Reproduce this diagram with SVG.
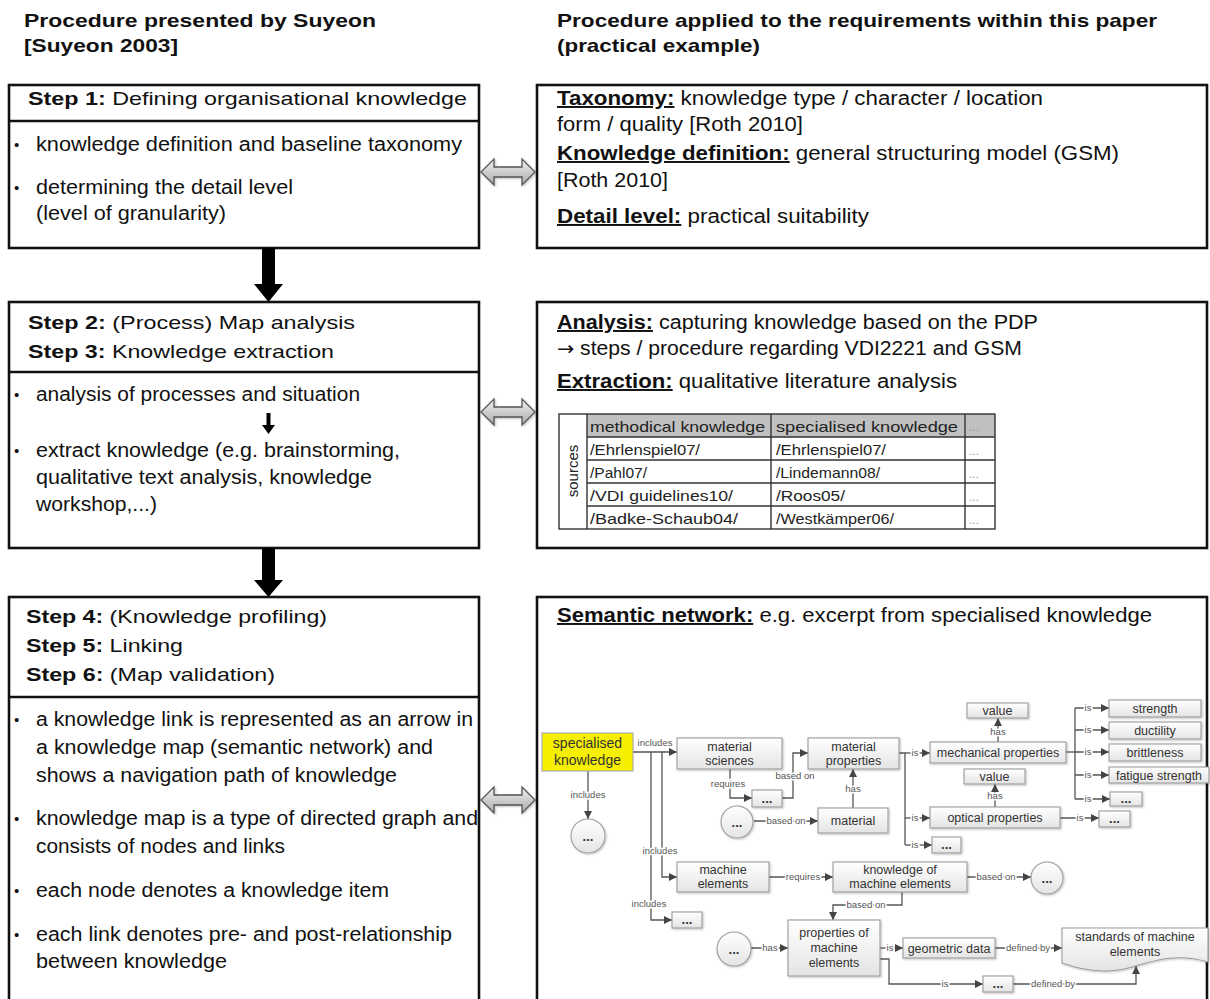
<svg xmlns="http://www.w3.org/2000/svg" width="1210" height="999" viewBox="0 0 1210 999">
  <defs>
    <style>
      .ttl { font-family: "Liberation Sans", Arial, sans-serif; font-weight: bold; font-size: 19px; fill: #111; }
      .hd { font-family: "Liberation Sans", Arial, sans-serif; font-size: 19px; fill: #111; }
      .b { font-weight: bold; }
      .bt { font-family: "Liberation Sans", Arial, sans-serif; font-size: 19.5px; fill: #111; }
      .bul { font-family: "Liberation Sans", Arial, sans-serif; font-size: 15px; fill: #111; }
      .bu { font-weight: bold; text-decoration: underline; }
      .arr { font-family: "DejaVu Sans", sans-serif; font-size: 19px; }
      .frame { fill: #fff; stroke: #111; stroke-width: 2.6; }
      .sep { stroke: #111; stroke-width: 2.4; }
      .tb { font-family: "Liberation Sans", Arial, sans-serif; font-size: 15px; fill: #222; }
      .tdots { font-family: "Liberation Sans", Arial, sans-serif; font-size: 12px; fill: #999; }
      .tl { stroke: #333; stroke-width: 1.4; fill: none; }
      .nb { fill: url(#ng); stroke: #9c9c9c; stroke-width: 1.1; filter: url(#sh); }
      .nt { font-family: "Liberation Sans", Arial, sans-serif; font-size: 12.5px; fill: #333; text-anchor: middle; }
      .dots { font-family: "Liberation Sans", Arial, sans-serif; font-size: 13px; font-weight: bold; fill: #333; text-anchor: middle; }
      .ln { stroke: #555; stroke-width: 1.3; fill: none; }
      .el { font-family: "Liberation Sans", Arial, sans-serif; font-size: 9.5px; fill: #555; text-anchor: middle; paint-order: stroke; stroke: #fff; stroke-width: 3px; stroke-linejoin: round; }
      .dbl { fill: url(#dg); stroke: #555; stroke-width: 1.3; filter: url(#sh); }
      .big { fill: #000; }
    </style>
    <linearGradient id="ng" x1="0" y1="0" x2="0" y2="1">
      <stop offset="0" stop-color="#ffffff"/>
      <stop offset="1" stop-color="#e4e4e4"/>
    </linearGradient>
    <linearGradient id="dg" x1="0" y1="0" x2="0" y2="1">
      <stop offset="0" stop-color="#f2f2f2"/>
      <stop offset="1" stop-color="#a9a9a9"/>
    </linearGradient>
    <filter id="sh" x="-20%" y="-20%" width="140%" height="140%">
      <feDropShadow dx="1" dy="1" stdDeviation="0.8" flood-color="#000" flood-opacity="0.25"/>
    </filter>
    <marker id="ah" viewBox="0 0 10 10" refX="10" refY="5" markerWidth="8" markerHeight="8" markerUnits="userSpaceOnUse" orient="auto">
      <path d="M0,0 L10,5 L0,10 z" fill="#444"/>
    </marker>
  </defs>

  <rect width="1210" height="999" fill="#fff"/>

  <!-- column titles -->
  <g id="titles">
    <text class="ttl" x="24" y="27" textLength="352" lengthAdjust="spacingAndGlyphs">Procedure presented by Suyeon</text>
    <text class="ttl" x="24" y="52" textLength="154" lengthAdjust="spacingAndGlyphs">[Suyeon 2003]</text>
    <text class="ttl" x="557" y="27" textLength="600" lengthAdjust="spacingAndGlyphs">Procedure applied to the requirements within this paper</text>
    <text class="ttl" x="557" y="52" textLength="203" lengthAdjust="spacingAndGlyphs">(practical example)</text>
  </g>

  <!-- left column: Suyeon procedure -->
  <g id="step1">
    <rect class="frame" x="9" y="85" width="470" height="163"/>
    <line class="sep" x1="9" y1="121" x2="479" y2="121"/>
    <text class="hd" x="28" y="105" textLength="439" lengthAdjust="spacingAndGlyphs"><tspan class="b">Step 1:</tspan> Defining organisational knowledge</text>
    <text class="bul" x="14" y="150">•</text>
    <text class="bt" x="36" y="151" textLength="426" lengthAdjust="spacingAndGlyphs">knowledge definition and baseline taxonomy</text>
    <text class="bul" x="14" y="193">•</text>
    <text class="bt" x="36" y="194" textLength="257" lengthAdjust="spacingAndGlyphs">determining the detail level</text>
    <text class="bt" x="36" y="220" textLength="190" lengthAdjust="spacingAndGlyphs">(level of granularity)</text>
  </g>

  <g id="step23">
    <rect class="frame" x="9" y="302" width="470" height="246"/>
    <line class="sep" x1="9" y1="372" x2="479" y2="372"/>
    <text class="hd" x="28" y="329" textLength="327" lengthAdjust="spacingAndGlyphs"><tspan class="b">Step 2:</tspan> (Process) Map analysis</text>
    <text class="hd" x="28" y="358" textLength="306" lengthAdjust="spacingAndGlyphs"><tspan class="b">Step 3:</tspan> Knowledge extraction</text>
    <text class="bul" x="14" y="400">•</text>
    <text class="bt" x="36" y="401" textLength="324" lengthAdjust="spacingAndGlyphs">analysis of processes and situation</text>
    <polygon class="big" points="266.5,413 270.5,413 270.5,425 275,425 268.5,434 262,425 266.5,425"/>
    <text class="bul" x="14" y="456">•</text>
    <text class="bt" x="36" y="457" textLength="364" lengthAdjust="spacingAndGlyphs">extract knowledge (e.g. brainstorming,</text>
    <text class="bt" x="36" y="484" textLength="336" lengthAdjust="spacingAndGlyphs">qualitative text analysis, knowledge</text>
    <text class="bt" x="36" y="511" textLength="121" lengthAdjust="spacingAndGlyphs">workshop,...)</text>
  </g>

  <g id="step456">
    <rect class="frame" x="9" y="597" width="470" height="420"/>
    <line class="sep" x1="9" y1="697" x2="479" y2="697"/>
    <text class="hd" x="26" y="623" textLength="301" lengthAdjust="spacingAndGlyphs"><tspan class="b">Step 4:</tspan> (Knowledge profiling)</text>
    <text class="hd" x="26" y="652" textLength="157" lengthAdjust="spacingAndGlyphs"><tspan class="b">Step 5:</tspan> Linking</text>
    <text class="hd" x="26" y="681" textLength="249" lengthAdjust="spacingAndGlyphs"><tspan class="b">Step 6:</tspan> (Map validation)</text>
    <text class="bul" x="14" y="725">•</text>
    <text class="bt" x="36" y="726" textLength="437" lengthAdjust="spacingAndGlyphs">a knowledge link is represented as an arrow in</text>
    <text class="bt" x="36" y="754" textLength="397" lengthAdjust="spacingAndGlyphs">a knowledge map (semantic network) and</text>
    <text class="bt" x="36" y="782" textLength="361" lengthAdjust="spacingAndGlyphs">shows a navigation path of knowledge</text>
    <text class="bul" x="14" y="824">•</text>
    <text class="bt" x="36" y="825" textLength="442" lengthAdjust="spacingAndGlyphs">knowledge map is a type of directed graph and</text>
    <text class="bt" x="36" y="853" textLength="249" lengthAdjust="spacingAndGlyphs">consists of nodes and links</text>
    <text class="bul" x="14" y="896">•</text>
    <text class="bt" x="36" y="897" textLength="353" lengthAdjust="spacingAndGlyphs">each node denotes a knowledge item</text>
    <text class="bul" x="14" y="940">•</text>
    <text class="bt" x="36" y="941" textLength="416" lengthAdjust="spacingAndGlyphs">each link denotes pre- and post-relationship</text>
    <text class="bt" x="36" y="968" textLength="191" lengthAdjust="spacingAndGlyphs">between knowledge</text>
  </g>

  <!-- right column: applied procedure -->
  <g id="applied1">
    <rect class="frame" x="537" y="85" width="670" height="163"/>
    <text class="bt" x="557" y="105" textLength="486" lengthAdjust="spacingAndGlyphs"><tspan class="bu">Taxonomy:</tspan> knowledge type / character / location</text>
    <text class="bt" x="557" y="131" textLength="246" lengthAdjust="spacingAndGlyphs">form / quality [Roth 2010]</text>
    <text class="bt" x="557" y="160" textLength="562" lengthAdjust="spacingAndGlyphs"><tspan class="bu">Knowledge definition:</tspan> general structuring model (GSM)</text>
    <text class="bt" x="557" y="187" textLength="111" lengthAdjust="spacingAndGlyphs">[Roth 2010]</text>
    <text class="bt" x="557" y="223" textLength="312" lengthAdjust="spacingAndGlyphs"><tspan class="bu">Detail level:</tspan> practical suitability</text>
  </g>

  <g id="applied2">
    <rect class="frame" x="537" y="302" width="670" height="246"/>
    <text class="bt" x="557" y="329" textLength="481" lengthAdjust="spacingAndGlyphs"><tspan class="bu">Analysis:</tspan> capturing knowledge based on the PDP</text>
    <text class="bt" x="557" y="355" textLength="465" lengthAdjust="spacingAndGlyphs"><tspan class="arr">→</tspan> steps / procedure regarding VDI2221 and GSM</text>
    <text class="bt" x="557" y="388" textLength="400" lengthAdjust="spacingAndGlyphs"><tspan class="bu">Extraction:</tspan> qualitative literature analysis</text>
    <!-- sources table -->
    <g id="sources-table">
      <rect x="587" y="414" width="408" height="23" fill="#c0c0c0"/>
      <rect class="tl" x="559" y="414" width="436" height="115"/>
      <line class="tl" x1="587" y1="414" x2="587" y2="529"/>
      <line class="tl" x1="771" y1="414" x2="771" y2="529"/>
      <line class="tl" x1="965" y1="414" x2="965" y2="529"/>
      <line class="tl" x1="587" y1="437" x2="995" y2="437"/>
      <line class="tl" x1="587" y1="460" x2="995" y2="460"/>
      <line class="tl" x1="587" y1="483" x2="995" y2="483"/>
      <line class="tl" x1="587" y1="506" x2="995" y2="506"/>
      <text class="tb" transform="translate(578,471) rotate(-90)" text-anchor="middle">sources</text>
      <text class="tb" x="590" y="432" textLength="175" lengthAdjust="spacingAndGlyphs">methodical knowledge</text>
      <text class="tb" x="776" y="432" textLength="182" lengthAdjust="spacingAndGlyphs">specialised knowledge</text>
      <text class="tdots" x="969" y="431">...</text>
      <text class="tb" x="590" y="455" textLength="110" lengthAdjust="spacingAndGlyphs">/Ehrlenspiel07/</text>
      <text class="tb" x="776" y="455" textLength="110" lengthAdjust="spacingAndGlyphs">/Ehrlenspiel07/</text>
      <text class="tdots" x="969" y="455">...</text>
      <text class="tb" x="590" y="478" textLength="57" lengthAdjust="spacingAndGlyphs">/Pahl07/</text>
      <text class="tb" x="776" y="478" textLength="104" lengthAdjust="spacingAndGlyphs">/Lindemann08/</text>
      <text class="tdots" x="969" y="478">...</text>
      <text class="tb" x="590" y="501" textLength="143" lengthAdjust="spacingAndGlyphs">/VDI guidelines10/</text>
      <text class="tb" x="776" y="501" textLength="69" lengthAdjust="spacingAndGlyphs">/Roos05/</text>
      <text class="tdots" x="969" y="501">...</text>
      <text class="tb" x="590" y="524" textLength="148" lengthAdjust="spacingAndGlyphs">/Badke-Schaub04/</text>
      <text class="tb" x="776" y="524" textLength="118" lengthAdjust="spacingAndGlyphs">/Westkämper06/</text>
      <text class="tdots" x="969" y="524">...</text>
    </g>
  </g>

  <g id="applied3">
    <rect class="frame" x="537" y="597" width="670" height="420"/>
    <text class="bt" x="557" y="622" textLength="595" lengthAdjust="spacingAndGlyphs"><tspan class="bu">Semantic network:</tspan> e.g. excerpt from specialised knowledge</text>
  </g>

  <!-- flow arrows between steps and correspondence arrows -->
  <g id="flow">
    <polygon class="big" points="262,248 275,248 275,284 283,284 268.5,302 254,284 262,284"/>
    <polygon class="big" points="262,548 275,548 275,580 283,580 268.5,597 254,580 262,580"/>
    <polygon class="dbl" points="481,172 494,159 494,167 522,167 522,159 535,172 522,185 522,177 494,177 494,185"/>
    <polygon class="dbl" points="481,412 494,399 494,407 522,407 522,399 535,412 522,425 522,417 494,417 494,425"/>
    <polygon class="dbl" points="481,800 494,787 494,795 522,795 522,787 535,800 522,813 522,805 494,805 494,813"/>
  </g>

  <!-- semantic network: connectors -->
  <g id="connectors">
    <path class="ln" d="M633,752 H677" marker-end="url(#ah)"/>
    <path class="ln" d="M588,771 V819" marker-end="url(#ah)"/>
    <path class="ln" d="M662,752 V877 H677" marker-end="url(#ah)"/>
    <path class="ln" d="M651,752 V920 H672" marker-end="url(#ah)"/>
    <path class="ln" d="M730,769 V798 H752" marker-end="url(#ah)"/>
    <path class="ln" d="M782,798 H793 V753 H808" marker-end="url(#ah)"/>
    <path class="ln" d="M754,821 H818" marker-end="url(#ah)"/>
    <path class="ln" d="M853,808 V769" marker-end="url(#ah)"/>
    <path class="ln" d="M899,753 H905 V845"/>
    <path class="ln" d="M905,753 H930" marker-end="url(#ah)"/>
    <path class="ln" d="M905,818 H930" marker-end="url(#ah)"/>
    <path class="ln" d="M905,845 H932" marker-end="url(#ah)"/>
    <path class="ln" d="M998,742 V718" marker-end="url(#ah)"/>
    <path class="ln" d="M995,807 V784" marker-end="url(#ah)"/>
    <path class="ln" d="M1066,752 H1075"/>
    <path class="ln" d="M1075,708 V799"/>
    <path class="ln" d="M1075,708 H1109" marker-end="url(#ah)"/>
    <path class="ln" d="M1075,730 H1109" marker-end="url(#ah)"/>
    <path class="ln" d="M1075,752 H1109" marker-end="url(#ah)"/>
    <path class="ln" d="M1075,775 H1109" marker-end="url(#ah)"/>
    <path class="ln" d="M1075,799 H1110" marker-end="url(#ah)"/>
    <path class="ln" d="M1060,818 H1099" marker-end="url(#ah)"/>
    <path class="ln" d="M769,877 H833" marker-end="url(#ah)"/>
    <path class="ln" d="M967,877 H1031" marker-end="url(#ah)"/>
    <path class="ln" d="M902,892 V905 H833 V920" marker-end="url(#ah)"/>
    <path class="ln" d="M751,948 H788" marker-end="url(#ah)"/>
    <path class="ln" d="M880,948 H903" marker-end="url(#ah)"/>
    <path class="ln" d="M995,948 H1062" marker-end="url(#ah)"/>
    <path class="ln" d="M880,959 H889 V984 H983" marker-end="url(#ah)"/>
    <path class="ln" d="M1013,984 H1136 V966" marker-end="url(#ah)"/>

    <text class="el" x="655" y="746" style="stroke-width:0">includes</text>
    <text class="el" x="588" y="798">includes</text>
    <text class="el" x="660" y="854">includes</text>
    <text class="el" x="649" y="907">includes</text>
    <text class="el" x="728" y="787">requires</text>
    <text class="el" x="795" y="779">based on</text>
    <text class="el" x="786" y="824">based on</text>
    <text class="el" x="853" y="792">has</text>
    <text class="el" x="915" y="756">is</text>
    <text class="el" x="915" y="821">is</text>
    <text class="el" x="915" y="848">is</text>
    <text class="el" x="998" y="735">has</text>
    <text class="el" x="995" y="799">has</text>
    <text class="el" x="1088" y="711">is</text>
    <text class="el" x="1088" y="733">is</text>
    <text class="el" x="1088" y="755">is</text>
    <text class="el" x="1088" y="778">is</text>
    <text class="el" x="1088" y="802">is</text>
    <text class="el" x="1080" y="821">is</text>
    <text class="el" x="803" y="880">requires</text>
    <text class="el" x="996" y="880">based on</text>
    <text class="el" x="866" y="908">based on</text>
    <text class="el" x="770" y="951">has</text>
    <text class="el" x="890" y="951">is</text>
    <text class="el" x="1028" y="951">defined by</text>
    <text class="el" x="945" y="987">is</text>
    <text class="el" x="1053" y="987">defined by</text>
  </g>

  <!-- semantic network: nodes -->
  <g id="n-specialised">
    <rect x="542" y="733" width="91" height="38" fill="#f6f000" stroke="#a6a6a6" stroke-width="1.1"/>
    <text class="nt" x="587.5" y="748" style="font-size:14px">specialised</text>
    <text class="nt" x="587.5" y="765" style="font-size:14px">knowledge</text>
  </g>
  <g id="n-more1"><circle class="nb" cx="588" cy="836" r="17"/><text class="dots" x="588" y="841">...</text></g>
  <g id="n-material-sciences">
    <rect class="nb" x="677" y="738" width="105" height="31"/>
    <text class="nt" x="729.5" y="751">material</text>
    <text class="nt" x="729.5" y="765">sciences</text>
  </g>
  <g id="n-more2"><rect class="nb" x="752" y="790" width="30" height="17"/><text class="dots" x="767" y="803">...</text></g>
  <g id="n-more3"><circle class="nb" cx="737" cy="822" r="16"/><text class="dots" x="737" y="827">...</text></g>
  <g id="n-material">
    <rect class="nb" x="818" y="808" width="70" height="25"/>
    <text class="nt" x="853" y="825">material</text>
  </g>
  <g id="n-material-properties">
    <rect class="nb" x="808" y="738" width="91" height="31"/>
    <text class="nt" x="853.5" y="751">material</text>
    <text class="nt" x="853.5" y="765">properties</text>
  </g>
  <g id="n-mechanical">
    <rect class="nb" x="930" y="742" width="136" height="21"/>
    <text class="nt" x="998" y="757">mechanical properties</text>
  </g>
  <g id="n-value1">
    <rect class="nb" x="967" y="703" width="61" height="15"/>
    <text class="nt" x="997.5" y="715">value</text>
  </g>
  <g id="n-optical">
    <rect class="nb" x="930" y="807" width="130" height="21"/>
    <text class="nt" x="995" y="822">optical properties</text>
  </g>
  <g id="n-value2">
    <rect class="nb" x="964" y="769" width="61" height="15"/>
    <text class="nt" x="994.5" y="781">value</text>
  </g>
  <g id="n-more4"><rect class="nb" x="932" y="837" width="29" height="16"/><text class="dots" x="946.5" y="849">...</text></g>
  <g id="n-strength">
    <rect class="nb" x="1109" y="700" width="92" height="17"/>
    <text class="nt" x="1155" y="713">strength</text>
  </g>
  <g id="n-ductility">
    <rect class="nb" x="1109" y="722" width="92" height="17"/>
    <text class="nt" x="1155" y="735">ductility</text>
  </g>
  <g id="n-brittleness">
    <rect class="nb" x="1109" y="744" width="92" height="17"/>
    <text class="nt" x="1155" y="757">brittleness</text>
  </g>
  <g id="n-fatigue">
    <rect class="nb" x="1109" y="767" width="100" height="16"/>
    <text class="nt" x="1159" y="779.5">fatigue strength</text>
  </g>
  <g id="n-more5"><rect class="nb" x="1110" y="792" width="32" height="14"/><text class="dots" x="1126" y="803">...</text></g>
  <g id="n-more6"><rect class="nb" x="1099" y="811" width="31" height="16"/><text class="dots" x="1114.5" y="823">...</text></g>
  <g id="n-machine-elements">
    <rect class="nb" x="677" y="862" width="92" height="30"/>
    <text class="nt" x="723" y="874">machine</text>
    <text class="nt" x="723" y="888">elements</text>
  </g>
  <g id="n-knowledge-me">
    <rect class="nb" x="833" y="862" width="134" height="30"/>
    <text class="nt" x="900" y="874">knowledge of</text>
    <text class="nt" x="900" y="888">machine elements</text>
  </g>
  <g id="n-more7"><circle class="nb" cx="1047" cy="878" r="16"/><text class="dots" x="1047" y="883">...</text></g>
  <g id="n-more8"><rect class="nb" x="672" y="912" width="30" height="16"/><text class="dots" x="687" y="924">...</text></g>
  <g id="n-more9"><circle class="nb" cx="734" cy="949" r="17"/><text class="dots" x="734" y="954">...</text></g>
  <g id="n-properties-me">
    <rect class="nb" x="788" y="920" width="92" height="56"/>
    <text class="nt" x="834" y="937">properties of</text>
    <text class="nt" x="834" y="952">machine</text>
    <text class="nt" x="834" y="967">elements</text>
  </g>
  <g id="n-geometric">
    <rect class="nb" x="903" y="938" width="92" height="20"/>
    <text class="nt" x="949" y="952.5">geometric data</text>
  </g>
  <g id="n-standards">
    <path class="nb" d="M1062,928 H1208 V962 C1178,953 1155,960 1132,967 C1108,974 1084,971 1062,963 Z"/>
    <text class="nt" x="1135" y="941">standards of machine</text>
    <text class="nt" x="1135" y="956">elements</text>
  </g>
  <g id="n-more10"><rect class="nb" x="983" y="976" width="30" height="16"/><text class="dots" x="998" y="988">...</text></g>
</svg>
